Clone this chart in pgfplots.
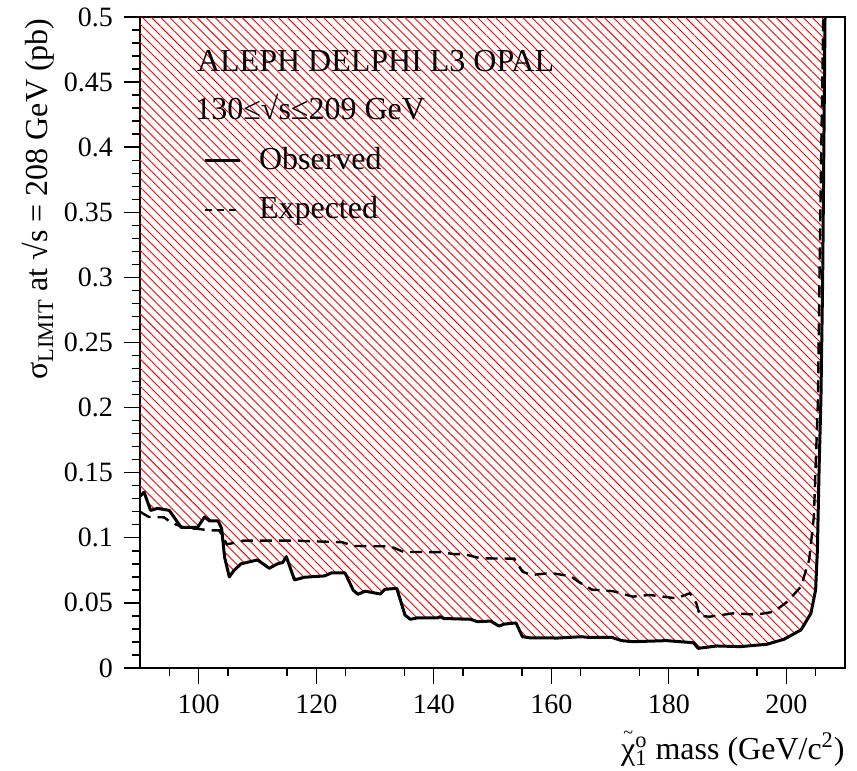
\documentclass[border=0pt]{standalone}
\usepackage{fontspec}
\setmainfont{Liberation Serif}
\usepackage{pgfplots}
\usepackage{pgfplotstable}
\pgfplotsset{compat=1.18}
\usetikzlibrary{patterns.meta}

\pgfplotstableread{
x y
90 0.132
90.7 0.135
91.8 0.121
93 0.1226
95 0.121
97 0.108
99.8 0.108
101 0.116
101.8 0.113
103.3 0.113
103.9 0.107
104.4 0.085
105.2 0.070
106 0.075
107.2 0.080
110 0.083
112 0.0766
113.4 0.080
114.3 0.081
114.9 0.0855
116.3 0.0676
118 0.0697
121.4 0.0707
122.6 0.073
124.9 0.073
126.3 0.0597
127.1 0.0566
128.3 0.059
130.9 0.0568
131.7 0.0604
133.7 0.0612
135.1 0.0407
136 0.0374
137.1 0.0384
140.6 0.0384
141.1 0.0394
141.7 0.038
146.3 0.0374
147.4 0.0356
149.7 0.036
151.1 0.0322
152 0.0337
154 0.0346
155.1 0.024
156.3 0.0232
161.1 0.023
165.1 0.024
166.3 0.0235
170.3 0.0235
172 0.021
173.9 0.0202
179.6 0.021
184.2 0.0194
185 0.0151
188.2 0.0169
192.2 0.0164
196.7 0.0182
199.6 0.022
202.5 0.0292
204.2 0.042
205 0.06
205.3 0.0906
205.6 0.155
205.9 0.206
206.2 0.3
206.4 0.4
206.6 0.5
}\observed

\pgfplotstableread{
x y
90 0.12
91.5 0.116
94.1 0.1157
95.3 0.1116
98 0.107
99.6 0.107
101.8 0.1057
103.5 0.1057
104.8 0.095
106.5 0.0965
107.6 0.0978
117 0.0978
118 0.0975
124.4 0.0966
126.5 0.0937
132.6 0.0934
134.9 0.0891
141.1 0.089
143.4 0.0875
145.1 0.0875
148 0.0842
153.7 0.084
155.1 0.074
156.6 0.0714
159.4 0.0727
160.6 0.0725
163.4 0.0703
164.6 0.0663
166.9 0.0602
170.5 0.059
173.9 0.0548
176.7 0.0561
181.3 0.0535
183.6 0.0574
184.7 0.0497
185.3 0.040
187 0.0394
191 0.042
195 0.041
197.9 0.0432
200.2 0.051
202.5 0.0625
203.9 0.083
204.7 0.116
205 0.155
205.4 0.206
205.8 0.35
206.3 0.5
}\expected

\begin{document}
\fontsize{16}{19}\selectfont
\begin{tikzpicture}
\begin{axis}[name=ax, scale only axis, width=352.5pt, height=325.5pt,
  xmin=90, xmax=210, ymin=0, ymax=0.5,
  xtick={100,120,...,200}, minor xtick={95,105,...,205},
  ytick={0,0.05,0.1,0.15,0.2,0.25,0.3,0.35,0.4,0.45,0.5},
  minor ytick={0.01,0.02,...,0.495},
  tick pos=left, tick align=outside,
  major tick length=8pt, minor tick length=4pt,
  scaled y ticks=false,
  yticklabel style={/pgf/number format/fixed, /pgf/number format/precision=2},
  /pgf/number format/assume math mode=true,
  tick label style={font=\fontsize{14}{16}\selectfont},
  axis line style={line width=0.7pt},
  every tick/.style={line width=0.7pt, black},
  legend style={draw=none, fill=none, at={(rel axis cs:0.0894,0.802)}, anchor=north west,
    inner sep=0pt, outer sep=0pt, row sep=9.5pt, column sep=9pt,
    font=\fontsize{16}{19}\selectfont,
    nodes={inner sep=0pt, text height=12pt, text depth=3pt}},
  legend cell align=left,
  legend image code/.code={\draw[#1] (0pt,0pt) -- (17.5pt,0pt);},
]
\addplot[draw=none, forget plot, pattern={Lines[angle=-45,distance=3.2pt,line width=0.45pt]}, pattern color=red]
 coordinates {(90,0.5) (90,0.132) (90.7,0.135) (91.8,0.121) (93,0.1226) (95,0.121) (97,0.108) (99.8,0.108) (101,0.116) (101.8,0.113) (103.3,0.113) (103.9,0.107) (104.4,0.085) (105.2,0.070) (106,0.075) (107.2,0.080) (110,0.083) (112,0.0766) (113.4,0.080) (114.3,0.081) (114.9,0.0855) (116.3,0.0676) (118,0.0697) (121.4,0.0707) (122.6,0.073) (124.9,0.073) (126.3,0.0597) (127.1,0.0566) (128.3,0.059) (130.9,0.0568) (131.7,0.0604) (133.7,0.0612) (135.1,0.0407) (136,0.0374) (137.1,0.0384) (140.6,0.0384) (141.1,0.0394) (141.7,0.038) (146.3,0.0374) (147.4,0.0356) (149.7,0.036) (151.1,0.0322) (152,0.0337) (154,0.0346) (155.1,0.024) (156.3,0.0232) (161.1,0.023) (165.1,0.024) (166.3,0.0235) (170.3,0.0235) (172,0.021) (173.9,0.0202) (179.6,0.021) (184.2,0.0194) (185,0.0151) (188.2,0.0169) (192.2,0.0164) (196.7,0.0182) (199.6,0.022) (202.5,0.0292) (204.2,0.042) (205,0.06) (205.3,0.0906) (205.6,0.155) (205.9,0.206) (206.2,0.3) (206.4,0.4) (206.6,0.5)} -- cycle;
\addplot[black, line width=1.5pt, line join=round, forget plot] table[x=x,y=y] {\observed};
\addplot[black, line width=1.2pt, dash pattern=on 6pt off 3.5pt, forget plot] table[x=x,y=y] {\expected};
\addlegendimage{black, line width=1.5pt}
\addlegendentry{Observed}
\addlegendimage{black, line width=1pt, dash pattern=on 3.5pt off 2.5pt}
\addlegendentry{Expected}
\node[anchor=base west, inner sep=0pt] at (rel axis cs:0.0804,0.9155) {ALEPH DELPHI L3 OPAL};
\node[anchor=base west, inner sep=0pt] at (rel axis cs:0.078,0.8418) {130≤√s≤209 GeV};
\end{axis}
\node[rotate=90, anchor=base east, inner sep=0pt] at ([xshift=-46pt,yshift=-0.5pt]ax.north west) {σ\textsubscript{LIMIT} at √s = 208 GeV (pb)};
\node[anchor=base east, inner sep=0pt] at ([yshift=-46pt]ax.south east) {\ooalign{χ\cr\hidewidth\raisebox{10.5pt}{\fontsize{9}{9}\selectfont\textasciitilde}\hidewidth\cr}\rlap{\textsuperscript{o}}\textsubscript{1} mass (GeV/c\textsuperscript{2})};
\pgfresetboundingbox
\path ([xshift=-70pt,yshift=-51.5pt]ax.south west) rectangle ([xshift=6pt,yshift=8.5pt]ax.north east);
\end{tikzpicture}
\end{document}
